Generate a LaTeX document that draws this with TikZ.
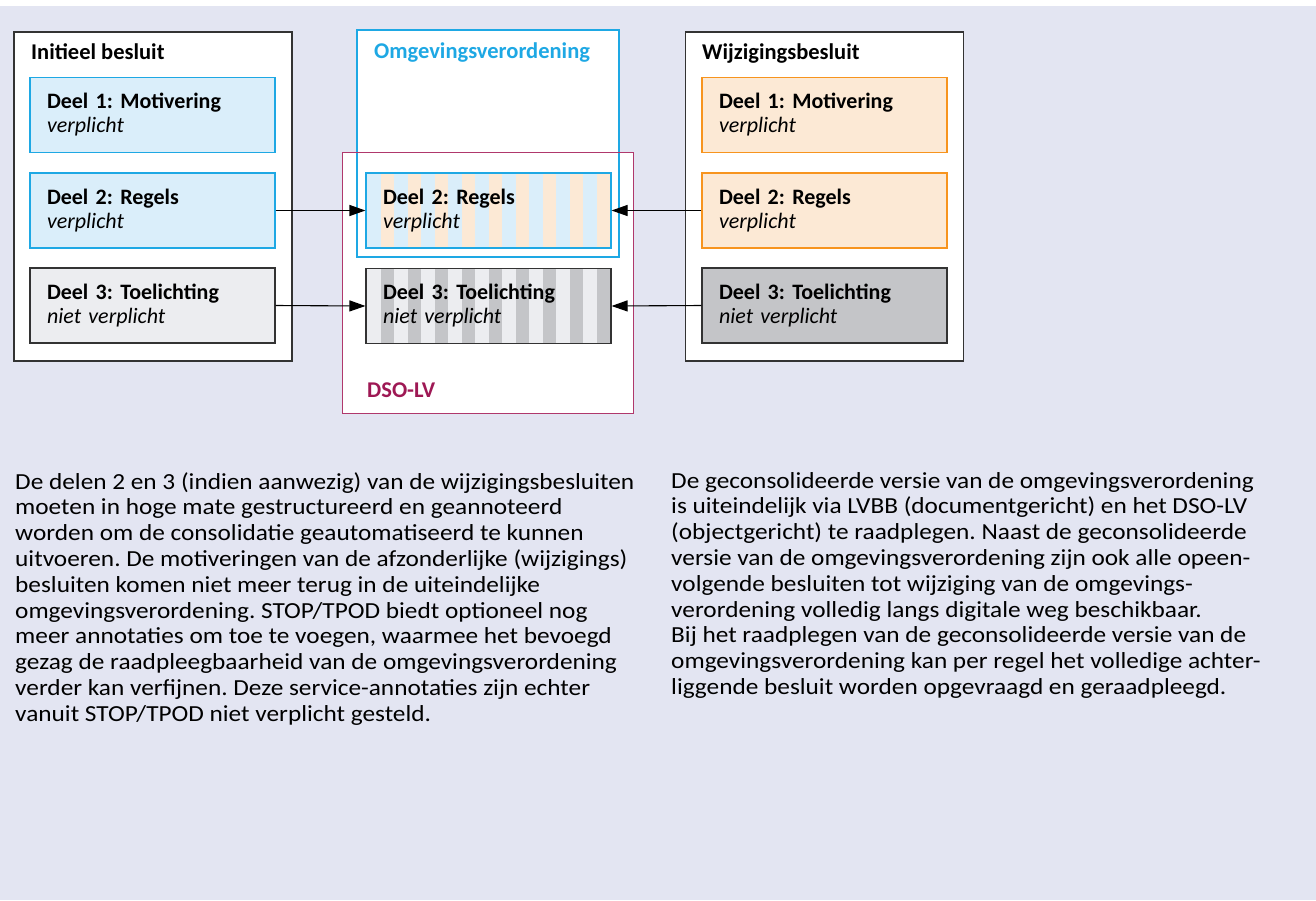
\documentclass[tikz,border=0pt]{standalone}
\usepackage{fontspec}
\setmainfont{Carlito}
\newfontfamily\broodfont{Carlito}[FakeStretch=1.1]
\usetikzlibrary{arrows.meta}
\definecolor{lavendel}{RGB}{227,229,242}
\definecolor{blauwvlak}{RGB}{218,238,250}
\definecolor{blauwlijn}{RGB}{30,168,228}
\definecolor{oranjevlak}{RGB}{252,233,213}
\definecolor{oranjelijn}{RGB}{247,148,30}
\definecolor{grijslicht}{RGB}{236,237,240}
\definecolor{grijsdonker}{RGB}{196,197,200}
\definecolor{dsolijn}{RGB}{176,56,108}
\definecolor{dsotekst}{RGB}{158,24,84}
\tikzset{
    besluit/.style={draw=black!80, fill=white, line width=1.1pt, minimum width=278pt, minimum height=329pt, inner sep=0pt},
    deel/.style={line width=1.1pt, minimum width=245pt, minimum height=75pt, text width=211pt, inner xsep=17pt, inner ysep=0pt, align=left, font=\fontsize{22}{24}\selectfont},
    kop/.style={anchor=base west, inner sep=0pt, font=\fontsize{22.5}{24}\selectfont\bfseries},
    tekst/.style={anchor=north west, inner sep=0pt, align=left, font=\broodfont\fontsize{23}{25.8}\selectfont},
    pijl/.style={line width=1.1pt, -{Triangle[length=16pt,width=11pt]}}
}
\begin{document}
\frenchspacing
\begin{tikzpicture}[x=1pt, y=-1pt]
            \fill[white] (0, 0) rectangle (1316, 900);
            \fill[lavendel] (0, 6) rectangle (1316, 900);
            \useasboundingbox (0, 0) rectangle (1316, 900);

            \node[besluit] (initieel) at (153, 196.5) {};
            \node[besluit] (wijziging) at (824.5, 196.5) {};
            \node[fill=white, minimum width=290pt, minimum height=260pt, inner sep=0pt] (dso) at (488, 283) {};
            \node[draw=blauwlijn, fill=white, line width=1.1pt, minimum width=262pt, minimum height=227pt, inner sep=0pt] (omg) at (488, 143.5) {};
            \draw[dsolijn, line width=1.1pt] (dso.south west) rectangle (dso.north east);

            \node[kop] (kopinitieel) at (31, 59) {Initieel besluit};
            \node[kop, blauwlijn] (kopomg) at (374, 58) {Omgevingsverordening};
            \node[kop] (kopwijziging) at (702, 59) {Wijzigingsbesluit};
            \node[kop, dsotekst] (kopdso) at (367, 397) {DSO-LV};

            \node[deel, draw=blauwlijn, fill=blauwvlak] (i1) at (152.5, 115) {\textbf{Deel 1: Motivering}\\\textit{verplicht}};
            \node[deel, draw=blauwlijn, fill=blauwvlak] (i2) at (152.5, 210.5) {\textbf{Deel 2: Regels}\\\textit{verplicht}};
            \node[deel, draw=black!80, fill=grijslicht] (i3) at (152.5, 305.5) {\textbf{Deel 3: Toelichting}\\\textit{niet verplicht}};

            \node[deel, draw=oranjelijn, fill=oranjevlak] (w1) at (824.5, 115) {\textbf{Deel 1: Motivering}\\\textit{verplicht}};
            \node[deel, draw=oranjelijn, fill=oranjevlak] (w2) at (824.5, 210.5) {\textbf{Deel 2: Regels}\\\textit{verplicht}};
            \node[deel, draw=black!80, fill=grijsdonker] (w3) at (824.5, 305.5) {\textbf{Deel 3: Toelichting}\\\textit{niet verplicht}};

            \foreach \i in {0,...,17} {
                \pgfmathsetmacro\links{367 + \i*13.5}
                \ifodd\i
                    \fill[oranjevlak] (\links, 173) rectangle ({\links+13.5}, 248);
                    \fill[grijsdonker] (\links, 268.5) rectangle ({\links+13.5}, 343.5);
                \else
                    \fill[blauwvlak] (\links, 173) rectangle ({\links+13.5}, 248);
                    \fill[grijslicht] (\links, 268.5) rectangle ({\links+13.5}, 343.5);
                \fi
            }
            \node[deel, draw=blauwlijn, minimum width=243pt] (o2) at (488.5, 210.5) {\textbf{Deel 2: Regels}\\\textit{verplicht}};
            \node[deel, draw=black!80, minimum width=243pt] (o3) at (488.5, 306) {\textbf{Deel 3: Toelichting}\\\textit{niet verplicht}};

            \draw[pijl] (i2.east) -- (o2.west);
            \draw[pijl] (i3.east) -- (o3.west);
            \draw[pijl] (w2.west) -- (o2.east);
            \draw[pijl] (w3.west) -- (o3.east);

            \node[tekst] (tekstlinks) at (15, 472) {De delen 2 en 3 (indien aanwezig) van de wijzigingsbesluiten\\
                moeten in hoge mate gestructureerd en geannoteerd\\
                worden om de consolidatie geautomatiseerd te kunnen\\
                uitvoeren. De motiveringen van de afzonderlijke (wijzigings)\\
                besluiten komen niet meer terug in de uiteindelijke\\
                omgevingsverordening. STOP/TPOD biedt optioneel nog\\
                meer annotaties om toe te voegen, waarmee het bevoegd\\
                gezag de raadpleegbaarheid van de omgevingsverordening\\
                verder kan verfijnen. Deze service-annotaties zijn echter\\
                vanuit STOP/TPOD niet verplicht gesteld.};
            \node[tekst] (tekstrechts) at (671, 472) {De geconsolideerde versie van de omgevingsverordening\\
                is uiteindelijk via LVBB (documentgericht) en het DSO-LV\\
                (objectgericht) te raadplegen. Naast de geconsolideerde\\
                versie van de omgevingsverordening zijn ook alle opeen-\\
                volgende besluiten tot wijziging van de omgevings-\\
                verordening volledig langs digitale weg beschikbaar.\\
                Bij het raadplegen van de geconsolideerde versie van de\\
                omgevingsverordening kan per regel het volledige achter-\\
                liggende besluit worden opgevraagd en geraadpleegd.};
        \end{tikzpicture}
\end{document}
